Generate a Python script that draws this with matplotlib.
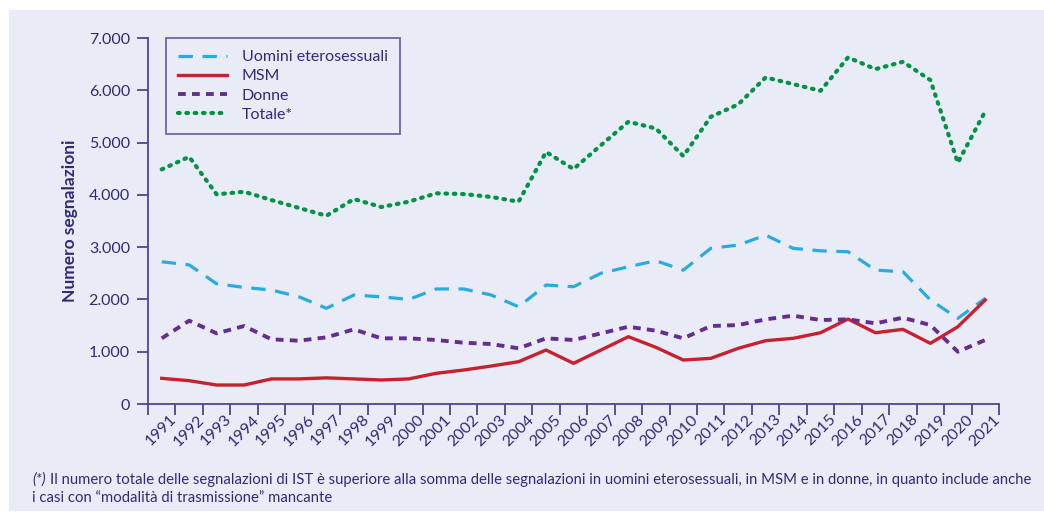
"""Segnalazioni IST per modalita di trasmissione, 1991-2021"""

import matplotlib
matplotlib.use("Agg")
import matplotlib.pyplot as plt
import matplotlib.transforms as mtransforms
from matplotlib.patches import Rectangle
from matplotlib.ticker import FuncFormatter
import numpy as np

plt.rcParams['font.family'] = ['Lato', 'DejaVu Sans']

years = list(range(1991, 2022))
uomini_etero = [2720, 2660, 2300, 2230, 2180, 2050, 1830, 2085, 2050, 2000,
                2200, 2200, 2085, 1860, 2275, 2243, 2500, 2625, 2740, 2560,
                2977, 3040, 3230, 2977, 2930, 2912, 2560, 2530, 1990, 1638, 2020]
msm = [491, 446, 363, 363, 480, 480, 500, 480, 459, 480,
       587, 650, 726, 809, 1032, 778, 1032, 1287, 1084, 841,
       873, 1065, 1211, 1256, 1363, 1625, 1363, 1428, 1160, 1478, 1990]
donne = [1256, 1593, 1351, 1491, 1237, 1211, 1275, 1428, 1256, 1256,
         1224, 1172, 1147, 1065, 1256, 1224, 1351, 1478, 1402, 1256,
         1491, 1510, 1619, 1689, 1606, 1619, 1543, 1650, 1510, 1000, 1224]
totale = [4487, 4728, 4010, 4060, 3900, 3750, 3600, 3920, 3767, 3870,
          4030, 4015, 3960, 3870, 4820, 4493, 4950, 5398, 5270, 4742,
          5493, 5730, 6246, 6118, 5990, 6629, 6405, 6545, 6195, 4614, 5602]

navy = '#2f2a7c'
axis_col = '#4b4594'
bg = '#e9ecf6'

fig = plt.figure(figsize=(10.44, 5.14), dpi=100)
fig.patch.set_facecolor('white')
# light panel behind everything
fig.patches.append(Rectangle((9 / 1044, 0.005), 1 - 9 / 1044, 1 - 10 / 514 - 0.005,
                             transform=fig.transFigure, facecolor=bg,
                             edgecolor='none', zorder=-10))

ax = fig.add_axes([148 / 1044, 110 / 514, (999 - 148) / 1044, (404 - 38) / 514])
ax.set_facecolor('none')
ax.set_zorder(5)

x = np.arange(len(years))
ax.plot(x, uomini_etero, color='#29abe2', lw=2.3, linestyle=(0, (4.5, 3)),
        label='Uomini eterosessuali')
ax.plot(x, msm, color='#c8202f', lw=2.4, solid_joinstyle='round',
        label='MSM')
ax.plot(x, donne, color='#662d91', lw=2.8, linestyle=(0, (2.0, 1.6)),
        label='Donne')
ax.plot(x, totale, color='#009245', lw=3.0, linestyle=(0, (0.4, 1.6)),
        dash_capstyle='round', label='Totale*')

ax.set_xlim(-0.5, len(years) - 0.5)
ax.set_ylim(0, 7000)

for s in ['top', 'right']:
    ax.spines[s].set_visible(False)
for s in ['left', 'bottom']:
    ax.spines[s].set_color(axis_col)
    ax.spines[s].set_linewidth(1.3)

ax.set_yticks(np.arange(0, 7001, 1000))
ax.yaxis.set_major_formatter(FuncFormatter(lambda v, p: f"{int(v):,}".replace(',', '.')))
ax.tick_params(axis='y', colors=axis_col, labelcolor=navy, length=8, width=1.3,
               labelsize=11.5, pad=5)

# ticks at the category boundaries, labels at the centres
ax.set_xticks(np.arange(-0.5, len(years), 1.0))
ax.set_xticklabels([])
ax.set_xticks(x, minor=True)
ax.set_xticklabels([str(y) for y in years], minor=True, rotation=45,
                   ha='right', va='top', rotation_mode='anchor')
ax.tick_params(axis='x', which='major', colors=axis_col, length=8, width=1.3)
ax.tick_params(axis='x', which='minor', length=0, labelcolor=navy,
               labelsize=11.5, pad=6)
offset = mtransforms.ScaledTranslation(8 / 100, 0, fig.dpi_scale_trans)
for lab in ax.get_xticklabels(minor=True):
    lab.set_transform(lab.get_transform() + offset)

ax.set_ylabel('Numero segnalazioni', color=navy, fontsize=12.5, fontweight='bold',
              labelpad=8)

leg = ax.legend(loc='upper left', bbox_to_anchor=(18 / 851, 1.0), frameon=True,
                fancybox=False, fontsize=11.5, handlelength=3.1, handletextpad=0.9,
                labelspacing=0.32, borderpad=0.75, borderaxespad=0)
leg.get_frame().set_edgecolor(axis_col)
leg.get_frame().set_linewidth(1.3)
leg.get_frame().set_facecolor('none')
for t in leg.get_texts():
    t.set_color(navy)

fig.text(32 / 1044, 1 - 480 / 514, '(*)', color=navy, fontsize=10.7,
         fontstyle='italic', va='center')
fig.text(50 / 1044, 1 - 480 / 514,
         'Il numero totale delle segnalazioni di IST è superiore alla somma delle '
         'segnalazioni in uomini eterosessuali, in MSM e in donne, in quanto include anche',
         color=navy, fontsize=10.7, va='center')
fig.text(32 / 1044, 1 - 498 / 514,
         'i casi con \u201cmodalità di trasmissione\u201d mancante',
         color=navy, fontsize=10.7, va='center')

fig.savefig('out.png', dpi=100)
